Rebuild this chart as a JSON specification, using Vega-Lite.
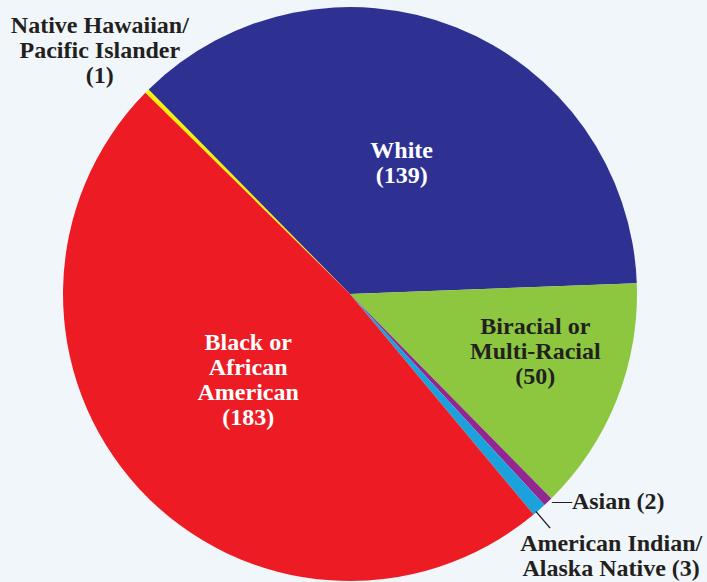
{
  "$schema": "https://vega.github.io/schema/vega-lite/v6.json",
  "autosize": "none",
  "width": 700,
  "height": 576,
  "padding": {"left": 0, "top": 6, "right": 7, "bottom": 0},
  "background": "#f1f6fa",
  "config": {"view": {"stroke": null}, "text": {"font": "Liberation Serif", "fontWeight": "bold", "fontSize": 24, "lineHeight": 25, "lineBreak": "\n"}},
  "data": {
    "values": [
      {"group": "Native Hawaiian/Pacific Islander", "count": 1, "ord": 1, "label": "Native Hawaiian/\nPacific Islander\n(1)"},
      {"group": "White", "count": 139, "ord": 2, "label": "White\n(139)"},
      {"group": "Biracial or Multi-Racial", "count": 50, "ord": 3, "label": "Biracial or\nMulti-Racial\n(50)"},
      {"group": "Asian", "count": 2, "ord": 4, "label": "Asian (2)"},
      {"group": "American Indian/Alaska Native", "count": 3, "ord": 5, "label": "American Indian/\nAlaska Native (3)"},
      {"group": "Black or African American", "count": 183, "ord": 6, "label": "Black or\nAfrican\nAmerican\n(183)"}
    ]
  },
  "encoding": {
    "theta": {"field": "count", "type": "quantitative", "stack": true, "scale": {"range": [-0.7941, 5.4891]}},
    "order": {"field": "ord", "type": "quantitative"}
  },
  "layer": [
    {
      "mark": {"type": "arc", "outerRadius": 287, "strokeWidth": 0},
      "encoding": {
        "color": {
          "field": "group", "type": "nominal", "legend": null,
          "scale": {
            "domain": ["Native Hawaiian/Pacific Islander", "White", "Biracial or Multi-Racial", "Asian", "American Indian/Alaska Native", "Black or African American"],
            "range": ["#fff200", "#2e3192", "#8dc63f", "#92278f", "#1ba1dc", "#ed1c24"]
          }
        }
      }
    },
    {
      "mark": {"type": "arc", "innerRadius": 286, "outerRadius": 308, "padAngle": 1, "thetaOffset": 0.012, "fillOpacity": 0, "stroke": "#231f20", "strokeWidth": 1.4},
      "encoding": {
        "strokeOpacity": {"condition": {"test": "datum.ord === 5", "value": 1}, "value": 0}
      }
    },
    {
      "mark": {"type": "text", "radius": 140, "dy": -13, "fill": "#ffffff", "align": "center", "baseline": "middle"},
      "encoding": {"text": {"condition": {"test": "datum.ord === 2", "field": "label"}, "value": ""}}
    },
    {
      "mark": {"type": "text", "radius": 194, "dx": 5, "dy": -39, "fill": "#231f20", "align": "center", "baseline": "middle"},
      "encoding": {"text": {"condition": {"test": "datum.ord === 3", "field": "label"}, "value": ""}}
    },
    {
      "mark": {"type": "text", "radius": 133, "dx": -4, "dy": -41, "fill": "#ffffff", "align": "center", "baseline": "middle"},
      "encoding": {"text": {"condition": {"test": "datum.ord === 6", "field": "label"}, "value": ""}}
    },
    {
      "mark": {"type": "text", "radius": 348, "dx": -4, "dy": -22, "fill": "#231f20", "align": "center", "baseline": "middle"},
      "encoding": {"text": {"condition": {"test": "datum.ord === 1", "field": "label"}, "value": ""}}
    },
    {
      "mark": {"type": "text", "radius": 303, "dx": 13, "dy": -11, "fill": "#231f20", "align": "left", "baseline": "middle"},
      "encoding": {"text": {"condition": {"test": "datum.ord === 4", "field": "label"}, "value": ""}}
    },
    {
      "mark": {"type": "text", "radius": 303, "dx": -7, "dy": -11, "fontSize": 20, "fontWeight": "normal", "fill": "#231f20", "align": "left", "baseline": "middle"},
      "encoding": {"text": {"condition": {"test": "datum.ord === 4", "value": "—"}, "value": ""}}
    },
    {
      "mark": {"type": "text", "radius": 366, "dx": 20, "dy": -25, "fill": "#231f20", "align": "center", "baseline": "middle"},
      "encoding": {"text": {"condition": {"test": "datum.ord === 5", "field": "label"}, "value": ""}}
    }
  ]
}
